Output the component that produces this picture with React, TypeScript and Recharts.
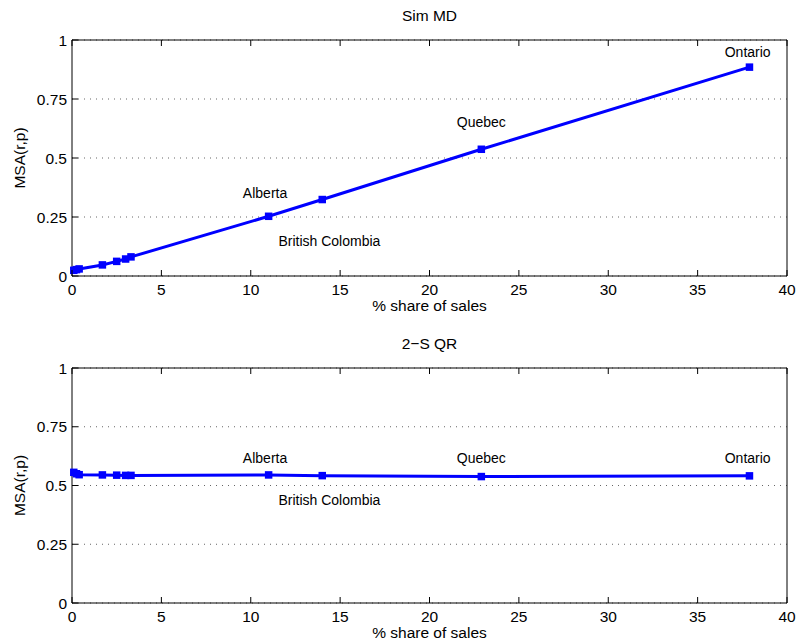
import { LineChart, Line, XAxis, YAxis, CartesianGrid, ReferenceDot } from "recharts";

// % share of sales per province / territory
const share = [0.1, 0.25, 0.4, 1.7, 2.5, 3.0, 3.3, 11.0, 14.0, 22.9, 37.9];
const simMd = [0.024, 0.027, 0.03, 0.047, 0.062, 0.072, 0.081, 0.253, 0.324, 0.537, 0.885];
const twoSqr = [0.556, 0.55, 0.546, 0.545, 0.544, 0.543, 0.543, 0.545, 0.542, 0.538, 0.541];

const xTicks = [0, 5, 10, 15, 20, 25, 30, 35, 40];
const yTicks = [0, 0.25, 0.5, 0.75, 1];

const provinces = ["Ontario", "Quebec", "Alberta", "British Colombia"];
const simMdLabelX = [37.8, 22.9, 10.8, 14.4];
const simMdLabelY = [0.95, 0.653, 0.351, 0.147];
const twoSqrLabelX = [37.8, 22.9, 10.8, 14.4];
const twoSqrLabelY = [0.618, 0.618, 0.618, 0.44];

const FONT = "'Liberation Sans', Arial, Helvetica, sans-serif";
const BLUE = "#0000ff";
const M = 6; // tick margin
const T = 6; // inward tick length

function BottomTick(props: any) {
  const { x, y, payload } = props;
  const ay = y - M;
  return (
    <g>
      <line x1={x} x2={x} y1={ay} y2={ay - T} stroke="#000" />
      <text x={x} y={ay + 19} textAnchor="middle" fontSize={15.5} fontFamily={FONT} fill="#000">
        {payload.value}
      </text>
    </g>
  );
}

function LeftTick(props: any) {
  const { x, y, payload } = props;
  const ax = x + M;
  return (
    <g>
      <line x1={ax} x2={ax + T} y1={y} y2={y} stroke="#000" />
      <text x={ax - 5} y={y + 5.5} textAnchor="end" fontSize={15.5} fontFamily={FONT} fill="#000">
        {payload.value}
      </text>
    </g>
  );
}

function TopTick(props: any) {
  const { x, y } = props;
  const ay = y + M;
  return <line x1={x} x2={x} y1={ay} y2={ay + T} stroke="#000" />;
}

function RightTick(props: any) {
  const { x, y } = props;
  const ax = x - M;
  return <line x1={ax} x2={ax - T} y1={y} y2={y} stroke="#000" />;
}

function renderSquare(props: any) {
  const { cx, cy, index } = props;
  if (cx == null || cy == null) return <g key={index} />;
  return <rect key={index} x={cx - 3.75} y={cy - 3.75} width={7.5} height={7.5} fill={BLUE} />;
}

function Panel({
  title,
  values,
  labelX,
  labelY,
  height,
  topH,
  bottomH,
}: {
  title: string;
  values: number[];
  labelX: number[];
  labelY: number[];
  height: number;
  topH: number;
  bottomH: number;
}) {
  const data = share.map((x, i) => ({ x, y: values[i] }));
  return (
    <LineChart width={797} height={height} data={data} margin={{ top: 0, right: 0, bottom: 0, left: 0 }}>
      <CartesianGrid vertical={false} stroke="#666" strokeDasharray="1 5" />
      <XAxis
        dataKey="x"
        type="number"
        domain={[0, 40]}
        ticks={xTicks}
        interval={0}
        height={bottomH}
        tickSize={0}
        tickMargin={M}
        tick={<BottomTick />}
        axisLine={{ stroke: "#000" }}
        label={{
          content: (p: any) => {
            const vb = p.viewBox;
            return (
              <text x={vb.x + vb.width / 2} y={vb.y + 35} textAnchor="middle" fontSize={15.5} fontFamily={FONT} fill="#000">
                % share of sales
              </text>
            );
          },
        }}
      />
      <XAxis
        xAxisId="top"
        orientation="top"
        dataKey="x"
        type="number"
        domain={[0, 40]}
        ticks={xTicks}
        interval={0}
        height={topH}
        tickSize={0}
        tickMargin={M}
        tick={<TopTick />}
        axisLine={{ stroke: "#000" }}
        label={{
          content: (p: any) => {
            const vb = p.viewBox;
            return (
              <text x={vb.x + vb.width / 2} y={vb.y + vb.height - 19} textAnchor="middle" fontSize={15.5} fontFamily={FONT} fill="#000">
                {title}
              </text>
            );
          },
        }}
      />
      <YAxis
        type="number"
        domain={[0, 1]}
        ticks={yTicks}
        interval={0}
        width={72}
        tickSize={0}
        tickMargin={M}
        tick={<LeftTick />}
        axisLine={{ stroke: "#000" }}
        label={{
          content: (p: any) => {
            const vb = p.viewBox;
            const cy = vb.y + vb.height / 2;
            return (
              <text x={25} y={cy} transform={`rotate(-90, 25, ${cy})`} textAnchor="middle" fontSize={15.5} fontFamily={FONT} fill="#000">
                MSA(r,p)
              </text>
            );
          },
        }}
      />
      <YAxis
        yAxisId="right"
        orientation="right"
        type="number"
        domain={[0, 1]}
        ticks={yTicks}
        interval={0}
        width={10}
        tickSize={0}
        tickMargin={M}
        tick={<RightTick />}
        axisLine={{ stroke: "#000" }}
      />
      <Line
        type="linear"
        dataKey="y"
        stroke={BLUE}
        strokeWidth={3}
        dot={renderSquare}
        activeDot={false}
        isAnimationActive={false}
      />
      {provinces.map((name, i) => (
        <ReferenceDot
          key={name}
          x={labelX[i]}
          y={labelY[i]}
          r={0}
          fill="none"
          stroke="none"
          label={{ value: name, position: "center", fontSize: 14, fontFamily: FONT, fill: "#000" }}
        />
      ))}
    </LineChart>
  );
}

export default function App() {
  return (
    <div style={{ position: "absolute", left: 0, top: 0, width: 797, height: 643, background: "#fff" }}>
      <Panel title="Sim MD" values={simMd} labelX={simMdLabelX} labelY={simMdLabelY} height={322} topH={40} bottomH={46} />
      <Panel title="2−S QR" values={twoSqr} labelX={twoSqrLabelX} labelY={twoSqrLabelY} height={321} topH={46} bottomH={40} />
    </div>
  );
}
